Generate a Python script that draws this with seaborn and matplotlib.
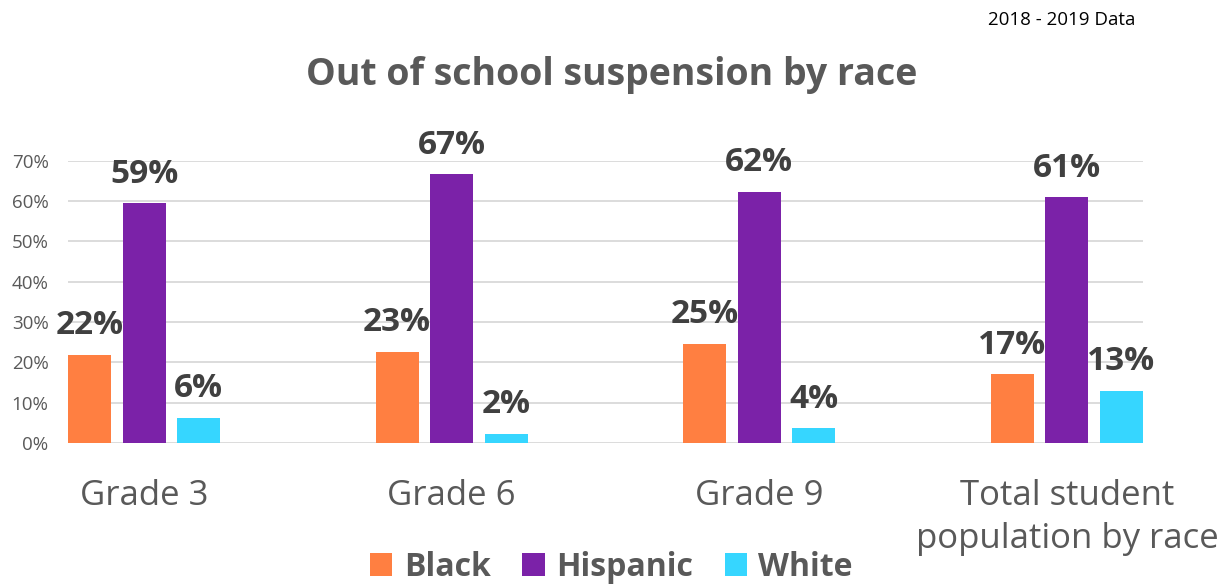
import matplotlib
matplotlib.use("Agg")
import matplotlib.pyplot as plt
import seaborn as sns
import pandas as pd
from matplotlib.patches import Patch

categories = ["Grade 3", "Grade 6", "Grade 9", "Total student\npopulation by race"]
races = ["Black", "Hispanic", "White"]
black = [21.8, 22.6, 24.6, 17.0]
hispanic = [59.4, 66.6, 62.2, 60.9]
white = [6.2, 2.3, 3.6, 12.9]
colors = ["#FF7F41", "#7B22A8", "#36D6FF"]
yticks = [0, 10, 20, 30, 40, 50, 60, 70]

rows = []
for race, vals in zip(races, [black, hispanic, white]):
    for c, v in zip(categories, vals):
        rows.append({"cat": c, "race": race, "val": v})
df = pd.DataFrame(rows)

sns.set_theme(style="white")
plt.rcParams["font.family"] = ["Open Sans", "DejaVu Sans"]

fig = plt.figure(figsize=(12.23, 5.84), dpi=100)
ax = fig.add_axes([68 / 1223, 141 / 584, (1143 - 68) / 1223, (442.3 - 160) / 584])

sns.barplot(data=df, x="cat", y="val", hue="race", order=categories, hue_order=races,
            palette=colors, width=0.532, gap=0.21, linewidth=0, saturation=1,
            ax=ax, legend=False)

ax.set_ylim(0, 70)
ax.set_xlim(-0.2474, 3.2474)
ax.set_yticks(yticks)
ax.set_yticklabels([f"{t}%" for t in yticks], fontsize=13.5, color="#595959")
ax.yaxis.grid(True, color="#D9D9D9", linewidth=1.3)
ax.set_axisbelow(True)
for s in ax.spines.values():
    s.set_visible(False)
ax.tick_params(axis="y", length=0, pad=14)
ax.tick_params(axis="x", length=0, pad=26)
ax.set_xticks(range(len(categories)))
ax.set_xticklabels(categories, fontsize=25, color="#595959", linespacing=1.35)
ax.set_xlabel("")
ax.set_ylabel("")

for cont in ax.containers:
    for bar in cont:
        h = bar.get_height()
        ax.annotate(f"{h:.0f}%", (bar.get_x() + bar.get_width() / 2, h),
                    xytext=(0, 15), textcoords="offset points",
                    ha="center", va="baseline", fontsize=24, fontweight="bold",
                    color="#404040", annotation_clip=False)

fig.text(0.5, 1 - 75 / 584, "Out of school suspension by race", ha="center", va="center",
         fontsize=27, fontweight="bold", color="#595959")
fig.text(1135 / 1223, 1 - 20 / 584, "2018 - 2019 Data", ha="right", va="center",
         fontsize=13.5, color="#000000")

handles = [Patch(facecolor=c, edgecolor="none") for c in colors]
leg = fig.legend(handles, races, loc="center", bbox_to_anchor=(0.5, 1 - 567 / 584),
                 ncol=3, frameon=False, handlelength=0.7, handleheight=0.7,
                 handletextpad=0.35, columnspacing=1.0,
                 prop={"size": 23, "weight": "bold"})
for t in leg.get_texts():
    t.set_color("#595959")

fig.savefig("out.png", dpi=100)
